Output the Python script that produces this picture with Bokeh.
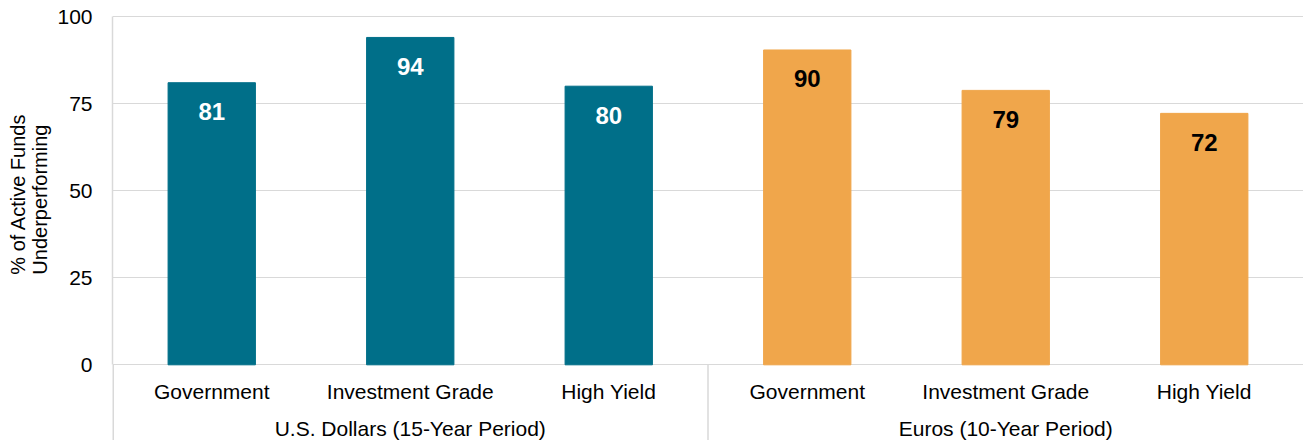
from bokeh.plotting import figure
from bokeh.models import FactorRange, Range1d, FixedTicker, ColumnDataSource, Title
from bokeh.core.properties import value
from bokeh.embed import file_html
from bokeh.resources import INLINE

# ---- data ----
groups = ["U.S. Dollars (15-Year Period)", "Euros (10-Year Period)"]
categories = ["Government", "Investment Grade", "High Yield"]
usd_values = [81, 94, 80]
eur_values = [90.4, 78.8, 72.2]
y_ticks = [0, 25, 50, 75, 100]
y_label = "% of Active Funds\nUnderperforming"

TEAL = "#006F89"
ORANGE = "#F0A64B"
GRID = "#D9D9D9"
FONT = "Liberation Sans"

factors = [(g, c) for g in groups for c in categories]
values = usd_values + eur_values
bar_colors = [TEAL] * len(usd_values) + [ORANGE] * len(eur_values)
label_colors = ["white"] * len(usd_values) + ["black"] * len(eur_values)
labels = [f"{v:.0f}" for v in values]

xr = FactorRange(*factors, factor_padding=0, group_padding=0, range_padding=0)
yr = Range1d(-21.73, 100.3)

p = figure(width=1303, height=440, x_range=xr, y_range=yr,
           output_backend="svg", toolbar_location=None,
           x_axis_location=None,
           min_border_left=111, min_border_right=0,
           min_border_top=15, min_border_bottom=0)
p.outline_line_color = None
p.background_fill_color = "white"
p.border_fill_color = "white"

src = ColumnDataSource(dict(x=factors, top=values, color=bar_colors,
                            label=labels, lcolor=label_colors))
p.vbar(x="x", top="top", width=0.44, color="color", source=src)

# value labels inside the bars
p.text(x="x", y="top", text="label", source=src, text_color="lcolor",
       text_font=value(FONT), text_font_size="24px", text_font_style="bold",
       text_align="center", text_baseline="alphabetic", y_offset=29)

# category labels (first level)
cat_src = ColumnDataSource(dict(x=factors, y=[0] * len(factors),
                                t=[f[1] for f in factors]))
p.text(x="x", y="y", text="t", source=cat_src, text_color="black",
       text_font=value(FONT), text_font_size="21px",
       text_align="center", text_baseline="alphabetic", y_offset=26.5)

# group labels (second level)
grp_src = ColumnDataSource(dict(x=groups, y=[0] * len(groups), t=groups))
p.text(x="x", y="y", text="t", source=grp_src, text_color="black",
       text_font=value(FONT), text_font_size="21px",
       text_align="center", text_baseline="alphabetic", y_offset=63.5)

# separator between the two groups and left border below the baseline
n_first = len(usd_values)
p.segment(x0=[n_first], y0=[0], x1=[n_first], y1=[yr.start],
          line_color=GRID, line_width=1.5)
p.segment(x0=[0], y0=[0], x1=[0], y1=[yr.start],
          line_color=GRID, line_width=3)

# y axis
p.yaxis.bounds = (0, 100)
p.yaxis.ticker = FixedTicker(ticks=y_ticks)
p.yaxis.major_tick_line_color = None
p.yaxis.minor_tick_line_color = None
p.yaxis.axis_line_color = GRID
p.yaxis.axis_line_width = 1.5
p.yaxis.major_label_standoff = 14
p.yaxis.major_label_text_font = FONT
p.yaxis.major_label_text_font_size = "21px"
p.yaxis.major_label_text_color = "black"

# y axis title, placed along the 0-100 part of the axis
p.add_layout(Title(text=y_label, align="right", vertical_align="bottom",
                   offset=98, standoff=8,
                   text_font=FONT, text_font_size="20px",
                   text_font_style="normal", text_color="black",
                   text_line_height=1.0), "left")

p.xgrid.grid_line_color = None
p.ygrid.ticker = FixedTicker(ticks=y_ticks)
p.ygrid.grid_line_color = GRID
p.ygrid.grid_line_width = 1.2

open("out.html", "w").write(file_html(p, INLINE))
